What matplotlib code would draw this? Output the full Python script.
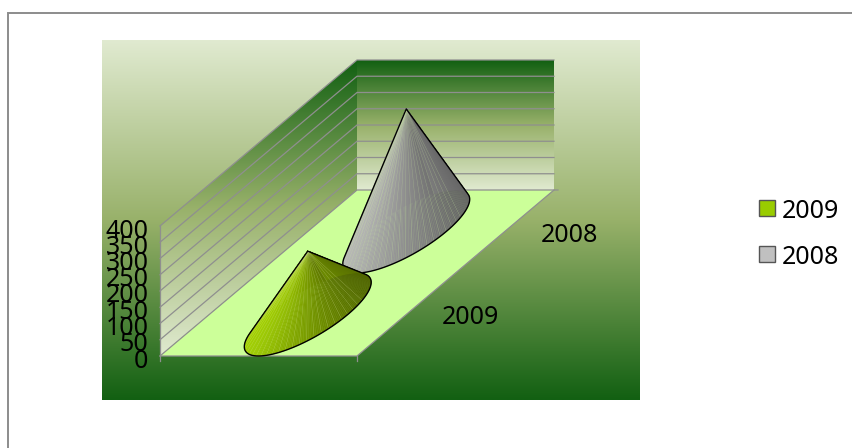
import numpy as np
import matplotlib
matplotlib.use("Agg")
import matplotlib.pyplot as plt
from matplotlib.colors import LinearSegmentedColormap, to_rgb
from matplotlib.patches import Polygon, Rectangle
from matplotlib.collections import PolyCollection, LineCollection

# ---- data ----
categories = ["2009", "2008"]
values = [195, 377]
value_ticks = [0, 50, 100, 150, 200, 250, 300, 350, 400]
legend_labels = ["2009", "2008"]

W, H = 853, 448
FS = 18.0
plt.rcParams['font.family'] = ['Noto Sans', 'DejaVu Sans']
fig = plt.figure(figsize=(W/100, H/100), dpi=100)
ax = fig.add_axes([0, 0, 1, 1])
ax.set_xlim(0, W); ax.set_ylim(H, 0); ax.axis('off')

# projection (width u 0-1, depth d 0-1, value v) -> pixels
ORG = np.array([160.0, 356.0])
UX = 197.0
DX, DY = 197.0, -166.0
VMAX = 400.0
VPX = 130.0
def proj(u, d, v=0.0):
    return ORG[0] + u*UX + d*DX, ORG[1] + d*DY - np.asarray(v)/VMAX*VPX

GRAD = ["#e0ead0", "#98b16a", "#126012"]
bg_cm = LinearSegmentedColormap.from_list("bg", GRAD)
wall_cm = LinearSegmentedColormap.from_list("wall", GRAD[::-1])
g = np.linspace(0, 1, 256).reshape(-1, 1)

# outer frame: only the top and left edges are in the picture
ax.plot([8, 8, W], [H, 13, 13], color='#8c8c8c', lw=1.4, zorder=0, solid_joinstyle='miter')
ax.imshow(g, cmap=bg_cm, extent=(102, 640, 400, 40), aspect='auto', zorder=1)

# walls
x0, y0 = proj(0, 0); x1, y1 = proj(1, 0); x2, y2 = proj(1, 1); x3, y3 = proj(0, 1)
top = VPX
left_wall = Polygon([(x0, y0), (x3, y3), (x3, y3-top), (x0, y0-top)], fc='none', ec='none')
back_wall = Polygon([(x3, y3), (x2, y3), (x2, y3-top), (x3, y3-top)], fc='none', ec='none')
ax.add_patch(left_wall); ax.add_patch(back_wall)
im = ax.imshow(g, cmap=wall_cm, extent=(x0, x3, y0, y3-top), aspect='auto', zorder=2)
im.set_clip_path(left_wall)
im = ax.imshow(g, cmap=wall_cm, extent=(x3, x2, y3, y3-top), aspect='auto', zorder=2)
im.set_clip_path(back_wall)
ax.set_xlim(0, W); ax.set_ylim(H, 0)

# floor
ax.add_patch(Polygon([(x0, y0), (x1, y1), (x2, y2), (x3, y3)], fc='#ccff99', ec='none', zorder=3))

# gridlines
GRID = '#8f8f8f'
LW = 0.9
for t in value_ticks:
    a = proj(0, 0, t); b = proj(0, 1, t); c = proj(1, 1, t)
    ax.plot([a[0], b[0], c[0]], [a[1], b[1], c[1]], color=GRID, lw=LW, zorder=4, solid_joinstyle='miter')
    ax.text(148.5, a[1]+5, str(t), ha='right', va='center', fontsize=FS, color='black', zorder=9)
ax.plot([x0, x0], [y0+5, y0-top], color=GRID, lw=LW, zorder=4)
ax.plot([x0, x1, x2, x2+4], [y0, y1, y2, y2], color=GRID, lw=LW, zorder=4)
ax.plot([x1, x1], [y1, y1+5], color=GRID, lw=LW, zorder=4)

# cones
def cone(dc, val, light, dark, line_c, z):
    cx, cy = proj(0.5, dc)
    apex = proj(0.5, dc, val)
    th = np.linspace(0, 2*np.pi, 217)
    ur, dr = 40.0/UX, 0.25
    ex = cx + ur*UX*np.cos(th) + dr*DX*np.sin(th)
    ey = cy + dr*DY*np.sin(th)
    lo, hi = ex.min(), ex.max()
    polys, cols = [], []
    light, dark = np.array(to_rgb(light)), np.array(to_rgb(dark))
    for i in range(len(th)-1):
        polys.append([apex, (ex[i], ey[i]), (ex[i+1], ey[i+1])])
        f = (0.5*(ex[i]+ex[i+1]) - lo)/(hi-lo)
        cols.append(light + (dark-light)*f)
    ax.add_collection(PolyCollection(polys, facecolors=cols, edgecolors=cols, linewidths=0.3, zorder=z))
    # pale seams between the facets
    segs = [[apex, (ex[i], ey[i])] for i in range(0, len(th)-1, 4) if ey[i] > cy - 15]
    ax.add_collection(LineCollection(segs, colors=line_c, linewidths=0.3, alpha=0.4, zorder=z+0.1))
    # silhouette
    ang = np.arctan2(ey-apex[1], ex-apex[0])
    il, ir = np.argmax(ang), np.argmin(ang)
    if il < ir:
        arc = list(range(il, ir+1))
    else:
        arc = list(range(il, len(th)-1)) + list(range(0, ir+1))
    if np.mean(ey[arc]) < cy:
        arc = list(range(ir, il+1)) if ir < il else list(range(ir, len(th)-1)) + list(range(0, il+1))
    pts = [apex] + [(ex[i], ey[i]) for i in arc]
    ax.add_patch(Polygon(pts, closed=True, fc='none', ec='black', lw=1.0, zorder=z+0.2, joinstyle='round'))

cone(0.75, values[1], '#b8b8b8', '#646464', '#c8e6a0', 5)
cone(0.25, values[0], '#a2d000', '#506500', '#d8e8a0', 6)

# category labels
ax.text(470.5, 318, categories[0], ha='center', va='center', fontsize=FS, zorder=9)
ax.text(569, 235, categories[1], ha='center', va='center', fontsize=FS, zorder=9)

# legend
for lab, col, y in zip(legend_labels, ['#99cc00', '#c0c0c0'], [208.5, 254.5]):
    ax.add_patch(Rectangle((759, y-8), 16, 16, fc=col, ec='#555555', lw=1.0, zorder=9))
    ax.text(782, y+3, lab, ha='left', va='center', fontsize=FS, zorder=9)

fig.savefig("out.png", dpi=100)
